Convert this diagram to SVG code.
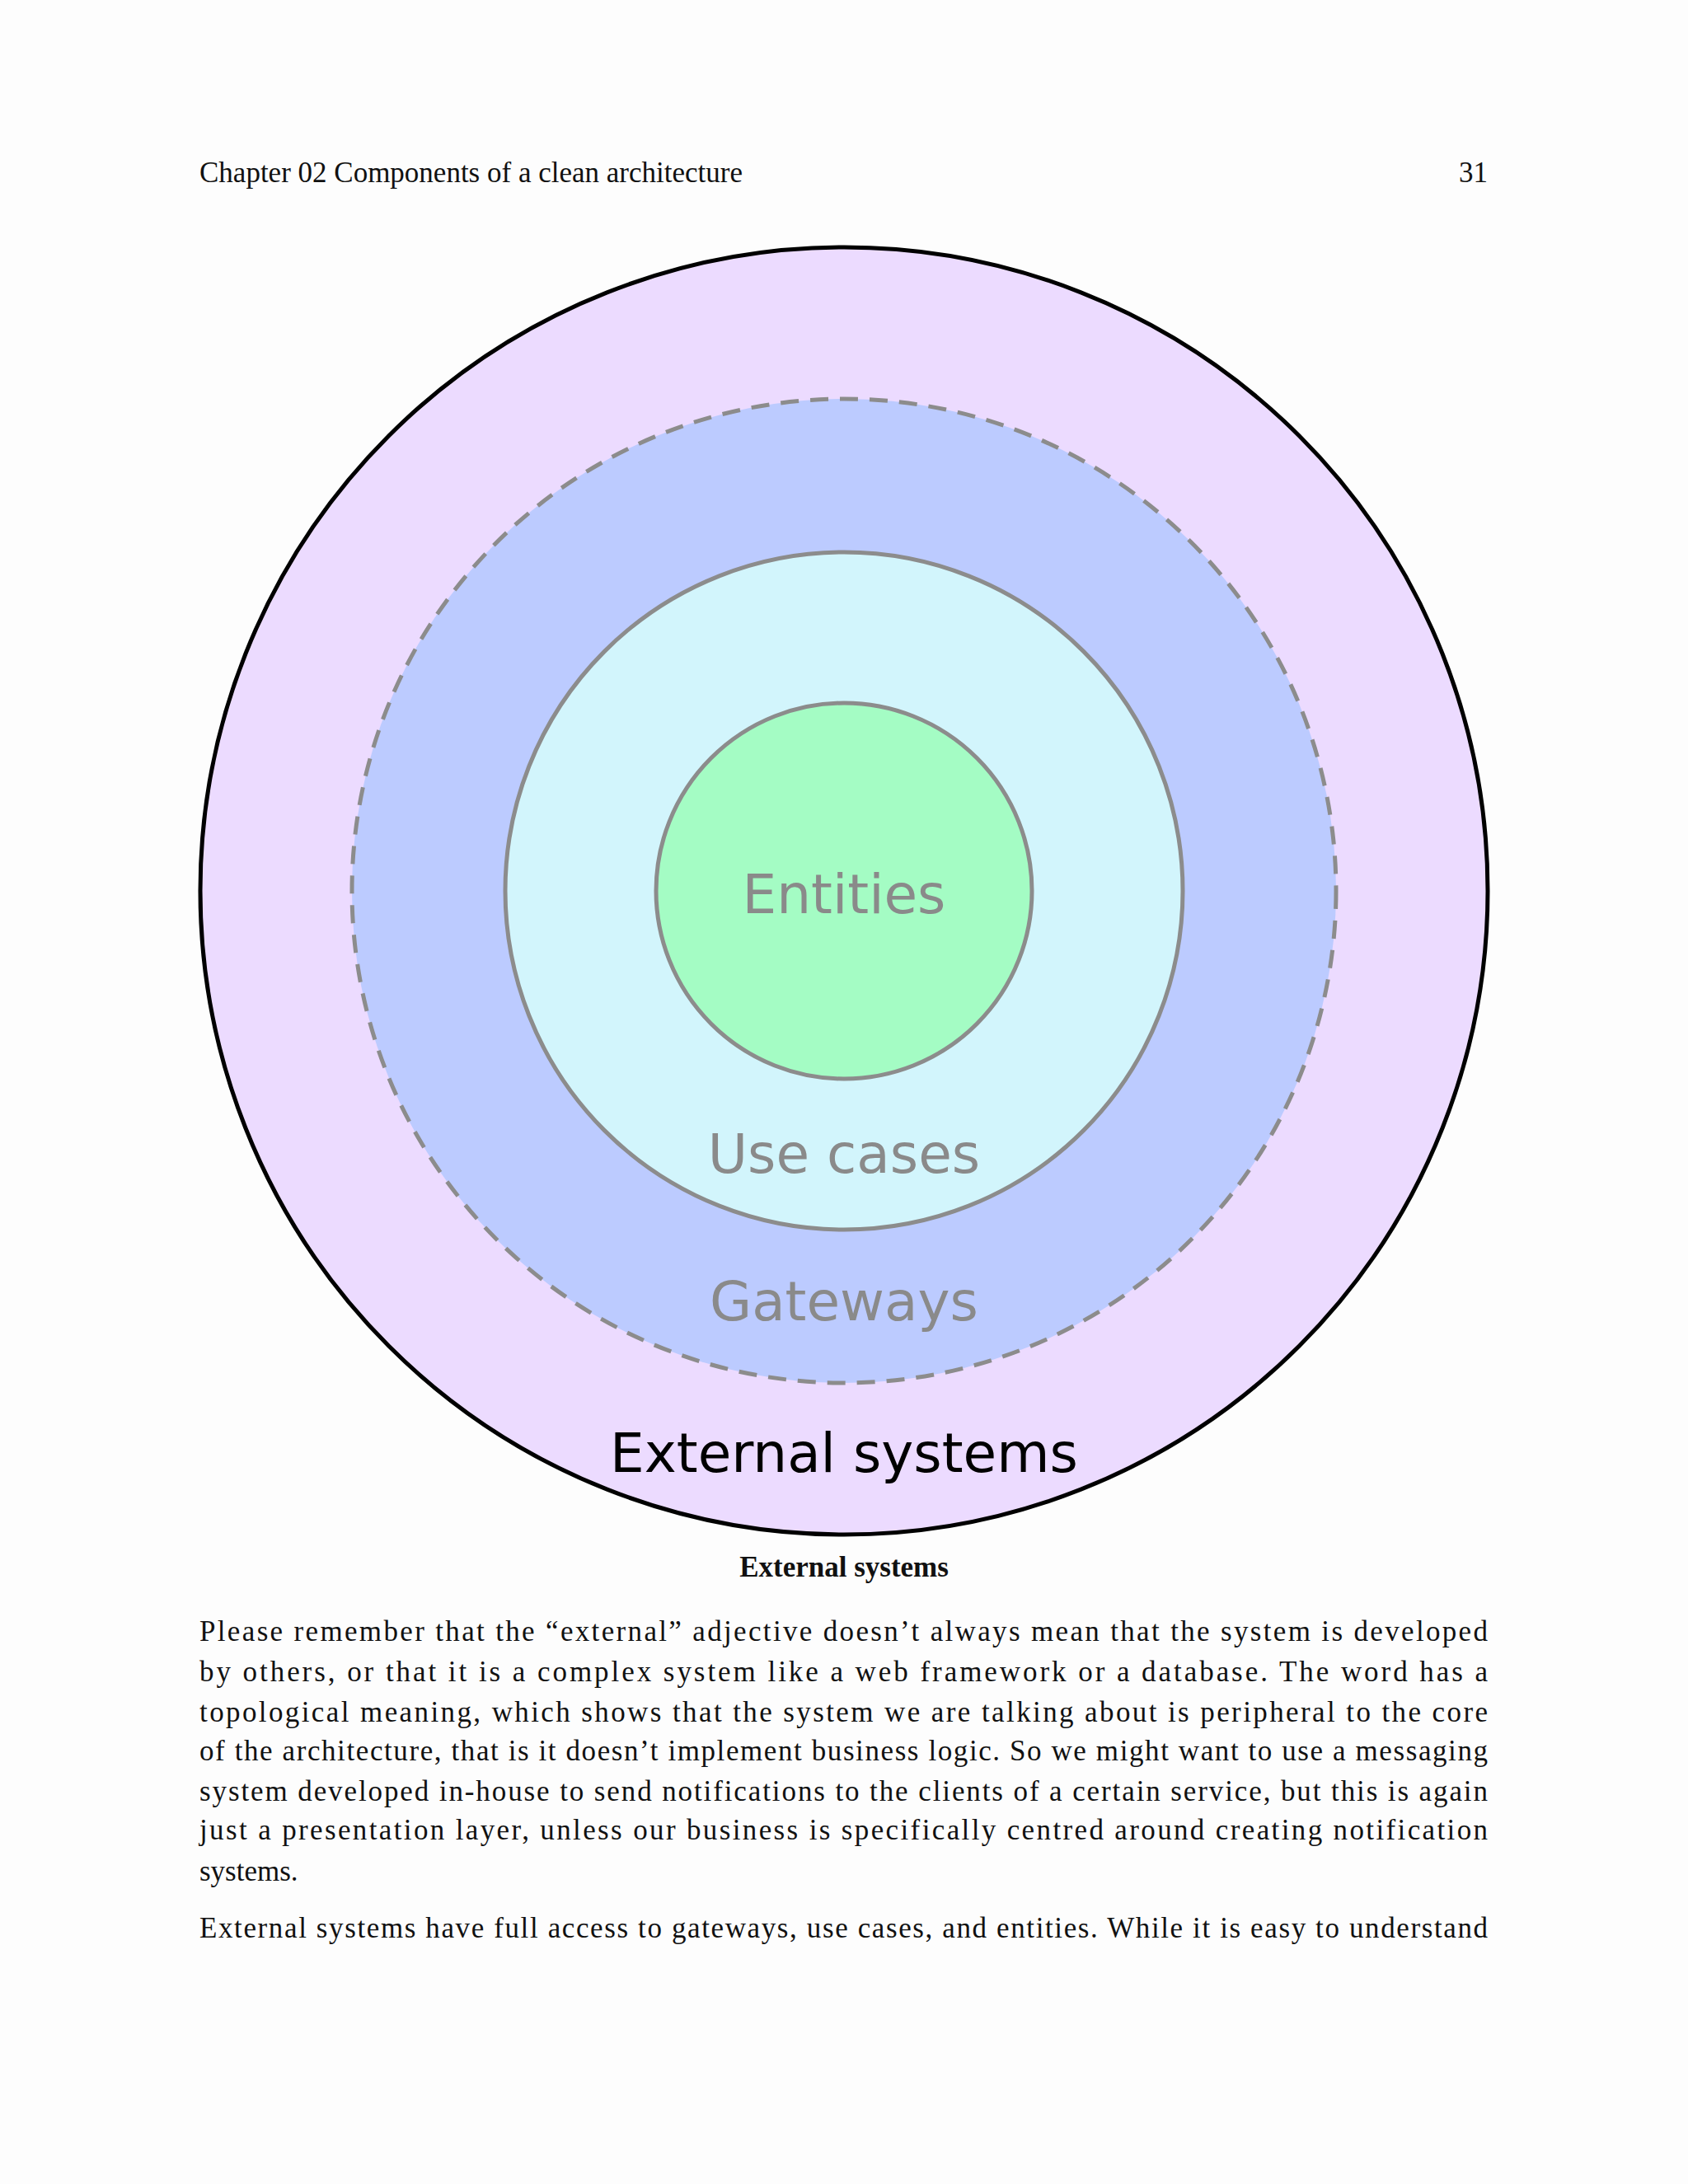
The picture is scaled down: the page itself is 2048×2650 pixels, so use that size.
<svg xmlns="http://www.w3.org/2000/svg" width="2048" height="2650" viewBox="0 0 2048 2650">
<style>
.t{font-family:"Liberation Serif",serif;font-size:35px;fill:#111}
.lbl{font-family:"DejaVu Sans",sans-serif;font-size:66px;text-anchor:middle;fill:#8a8a8a}
.ring{stroke:#8c8c8c;stroke-width:5}
</style>
<rect width="2048" height="2650" fill="#fdfdfd"/>
<text class="t" x="242" y="221" font-size="29">Chapter 02 Components of a clean architecture</text>
<text class="t" x="1805" y="221" font-size="31" text-anchor="end">31</text>
<g id="external"><circle cx="1024" cy="1081" r="781" fill="#ecdbff" stroke="#000" stroke-width="5"/></g>
<g id="gateways"><circle cx="1024" cy="1081" r="597" fill="#bccbff" class="ring" stroke-dasharray="22,14"/></g>
<g id="usecases"><circle cx="1024" cy="1081" r="411" fill="#d2f5fc" class="ring"/></g>
<g id="entities"><circle cx="1024" cy="1081" r="228" fill="#a4fcc4" class="ring"/></g>
<g id="labels">
<text class="lbl" x="1024" y="1108">Entities</text>
<text class="lbl" x="1024" y="1423">Use cases</text>
<text class="lbl" x="1024" y="1602">Gateways</text>
<text class="lbl" x="1024" y="1786" fill="#000" style="fill:#000">External systems</text>
</g>
<g id="connectors"/>
<text class="t" x="1024" y="1913" font-size="28" font-weight="bold" text-anchor="middle">External systems</text>
<g class="t">
<text x="242" y="1991" textLength="1563" lengthAdjust="spacing">Please remember that the “external” adjective doesn’t always mean that the system is developed</text>
<text x="242" y="2040" textLength="1563" lengthAdjust="spacing">by others, or that it is a complex system like a web framework or a database. The word has a</text>
<text x="242" y="2089" textLength="1563" lengthAdjust="spacing">topological meaning, which shows that the system we are talking about is peripheral to the core</text>
<text x="242" y="2136" textLength="1563" lengthAdjust="spacing">of the architecture, that is it doesn’t implement business logic. So we might want to use a messaging</text>
<text x="242" y="2185" textLength="1563" lengthAdjust="spacing">system developed in-house to send notifications to the clients of a certain service, but this is again</text>
<text x="242" y="2232" textLength="1563" lengthAdjust="spacing">just a presentation layer, unless our business is specifically centred around creating notification</text>
<text x="242" y="2282">systems.</text>
<text x="242" y="2351" textLength="1563" lengthAdjust="spacing">External systems have full access to gateways, use cases, and entities. While it is easy to understand</text>
</g>
</svg>
